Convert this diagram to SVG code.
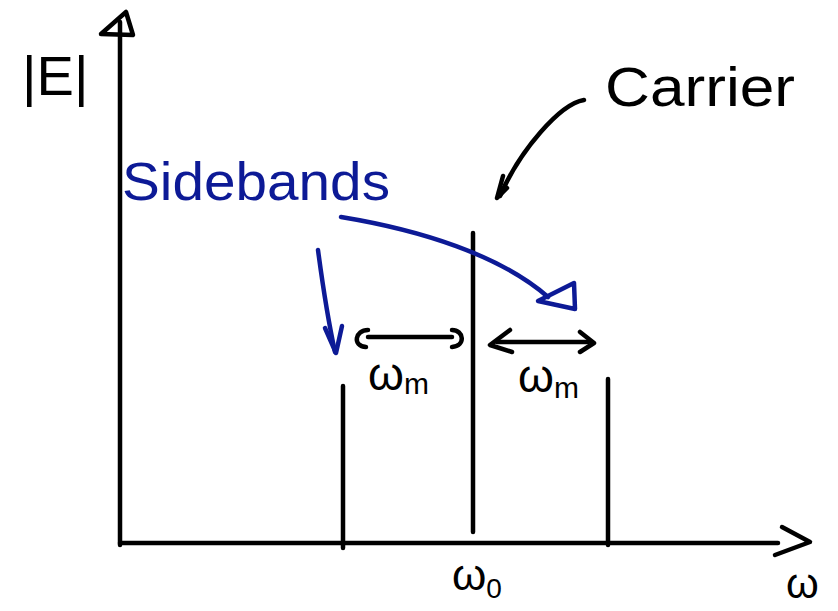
<svg xmlns="http://www.w3.org/2000/svg" width="838" height="611" viewBox="0 0 838 611">
<style>
.k{fill:none;stroke:#000;stroke-width:4.5;stroke-linecap:round;stroke-linejoin:round}
.b{fill:none;stroke:#0d1a96;stroke-width:4.5;stroke-linecap:round;stroke-linejoin:round}
.t{font-family:"Liberation Sans",Arial,sans-serif;fill:#000}
.tb{font-family:"Liberation Sans",Arial,sans-serif;fill:#0d1a96}
</style>
<rect width="838" height="611" fill="#fff"/>
<g id="axes">
<path class="k" d="M120,545 L120,22"/>
<path class="k" d="M101,34 L126,12 L133,35 Z"/>
<path class="k" d="M120,543 L778,543"/>
<path class="k" d="M782,527 L810,542 L775,555"/>
</g>
<g id="lines">
<path class="k" d="M473,233 L473,532"/>
<path class="k" d="M343,386 L343,548"/>
<path class="k" d="M608,379 L608,545"/>
</g>
<g id="connectors">
<path class="k" d="M584,100 C560,104 520,150 500,196"/>
<path class="k" d="M503,176 L497,198 L507,188"/>
<path class="b" d="M318,250 C322,280 328,320 335,352"/>
<path class="b" d="M325,328 L336,353 L342,326"/>
<path class="b" d="M341,217 C420,230 500,255 548,297"/>
<path class="b" d="M538,301 L574,283 L575,309 Z"/>
<path class="k" d="M368,337 L452,337"/>
<path class="k" d="M368,330 C355,330 352,346 366,347 M452,330 C464,330 466,346 452,347"/>
<path class="k" d="M497,342 L588,342"/>
<path class="k" d="M510,330 L490,345 L512,352 M580,332 L594,343 L580,352"/>
</g>
<g id="labels">
<text class="t" x="22" y="95" font-size="56">|E|</text>
<text class="t" x="605" y="106" font-size="56" textLength="190" lengthAdjust="spacingAndGlyphs">Carrier</text>
<text class="tb" x="122" y="200" font-size="54" textLength="268" lengthAdjust="spacingAndGlyphs">Sidebands</text>
<text class="t" x="368" y="390" font-size="46">ω<tspan font-size="30" dy="4">m</tspan></text>
<text class="t" x="518" y="392" font-size="46">ω<tspan font-size="30" dy="6">m</tspan></text>
<text class="t" x="452" y="590" font-size="44">ω<tspan font-size="28" dy="8">0</tspan></text>
<text class="t" x="786" y="598" font-size="42">ω</text>
</g>
</svg>
